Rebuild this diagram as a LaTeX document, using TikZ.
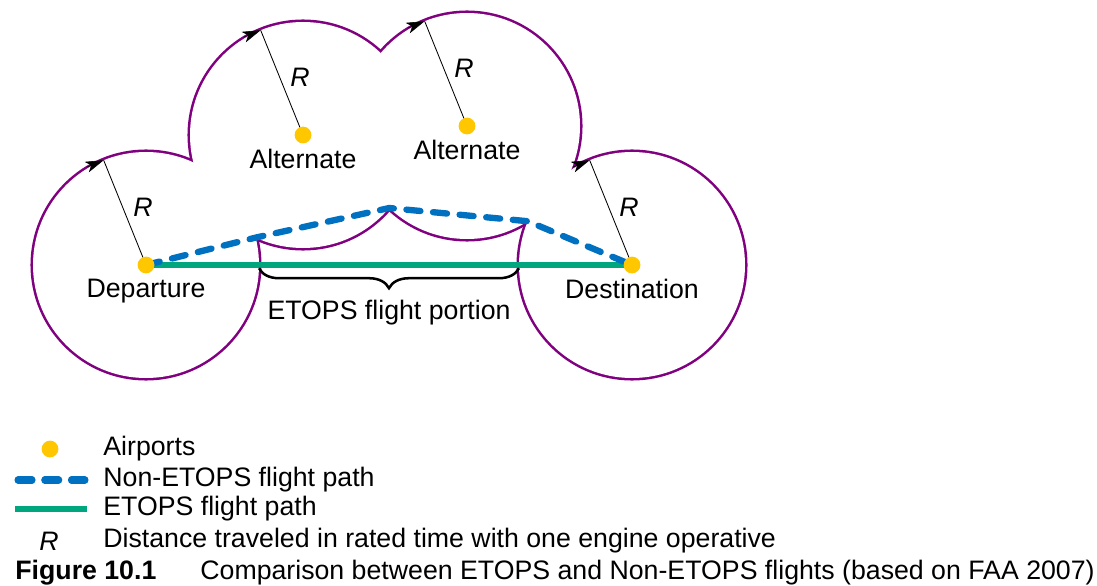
\documentclass[tikz,border=0pt]{standalone}
\usepackage{fontspec}
\setmainfont{Liberation Sans}
\usetikzlibrary{positioning,calc,arrows.meta,decorations.pathreplacing}
\definecolor{zonepurple}{RGB}{128,0,128}
\definecolor{pathblue}{RGB}{0,112,192}
\definecolor{pathgreen}{RGB}{0,166,126}
\definecolor{airportyellow}{RGB}{255,199,0}
\newcommand{\rng}{2.825}
\tikzset{
  lbl/.style={font=\fontsize{19}{23}\selectfont},
  airport/.style={circle,fill=airportyellow,inner sep=0pt,minimum size=0.42cm},
  zone/.style={zonepurple,line width=3.6pt},
  nonetops/.style={pathblue,line width=4.5pt,dash pattern=on 10pt off 9pt,line cap=round},
  etops/.style={pathgreen,line width=3.6pt},
  rline/.style={black,line width=0.6pt},
}
\begin{document}
\begin{tikzpicture}
\useasboundingbox (0,0) rectangle (27.425,14.625);
% airports
\coordinate (dep) at (3.65,8);
\coordinate (alt1) at (7.575,11.25);
\coordinate (alt2) at (11.675,11.475);
\coordinate (dest) at (15.8,8);
% inner corners where two ranges meet
\coordinate (cusp1) at (6.391,8.685);
\coordinate (cusp2) at (9.731,9.425);
\coordinate (cusp3) at (13.195,9.094);

% range outline: thick circles, then white inside
\foreach \ap in {dep,alt1,alt2,dest}
  \draw[zone] (\ap) circle (\rng);
\foreach \ap in {dep,alt1,alt2,dest}
  \fill[white] (\ap) circle (\rng);

\draw[etops] (dep) -- (dest);
\draw[line width=1.8pt,decorate,decoration={brace,mirror,amplitude=0.5cm}]
  ($(dep)+(\rng,-0.08)$) -- ($(dest)+(-\rng,-0.08)$)
  node[lbl,midway,below=0.65cm] (portion) {ETOPS flight portion};
\draw[nonetops] (dep) -- (cusp1) -- (cusp2) -- (cusp3) -- (dest);

% radius R
\foreach \ap in {dep,alt1,alt2,dest} {
  \draw[rline] (\ap) -- ++(112:\rng)
    node[lbl,pos=0.55,right=4pt] (\ap-R) {\textit{R}} coordinate (\ap-r);
  \draw[-{Stealth[length=13pt,width=8pt,inset=3.5pt]}] ($(\ap-r)+(202:13pt)$) -- (\ap-r);
}

\node[airport] (dep-dot) at (dep) {};
\node[airport] (alt1-dot) at (alt1) {};
\node[airport] (alt2-dot) at (alt2) {};
\node[airport] (dest-dot) at (dest) {};
\node[lbl,below=0pt of dep-dot] (dep-lbl) {Departure};
\node[lbl,below=0pt of alt1-dot] (alt1-lbl) {Alternate};
\node[lbl,below=0pt of alt2-dot] (alt2-lbl) {Alternate};
\node[lbl,below=0pt of dest-dot] (dest-lbl) {Destination};

% key
\node[airport] (key-dot) at (1.25,3.4) {};
\node[lbl,anchor=west] (key-airports) at (2.46,3.4) {Airports};
\coordinate (key-dash-a) at (0.45,2.625);
\coordinate (key-dash-b) at (2.125,2.625);
\draw[nonetops,line width=5pt] (key-dash-a) -- (key-dash-b);
\node[lbl,anchor=west] (key-nonetops) at (2.46,2.625) {Non-ETOPS flight path};
\coordinate (key-line-a) at (0.375,1.9);
\coordinate (key-line-b) at (2.175,1.9);
\draw[etops] (key-line-a) -- (key-line-b);
\node[lbl,anchor=west] (key-etops) at (2.46,1.9) {ETOPS flight path};
\node[lbl] (key-R) at (1.225,1.1) {\textit{R}};
\node[lbl,anchor=west] (key-range) at (2.46,1.1) {Distance traveled in rated time with one engine operative};

% caption
\node[lbl,anchor=west,font=\fontsize{19}{23}\selectfont\bfseries] (fig-num) at (0.26,0.3) {Figure 10.1};
\node[lbl,anchor=west] (fig-cap) at (4.885,0.3) {Comparison between ETOPS and Non-ETOPS flights (based on FAA 2007)};
\end{tikzpicture}
\end{document}
